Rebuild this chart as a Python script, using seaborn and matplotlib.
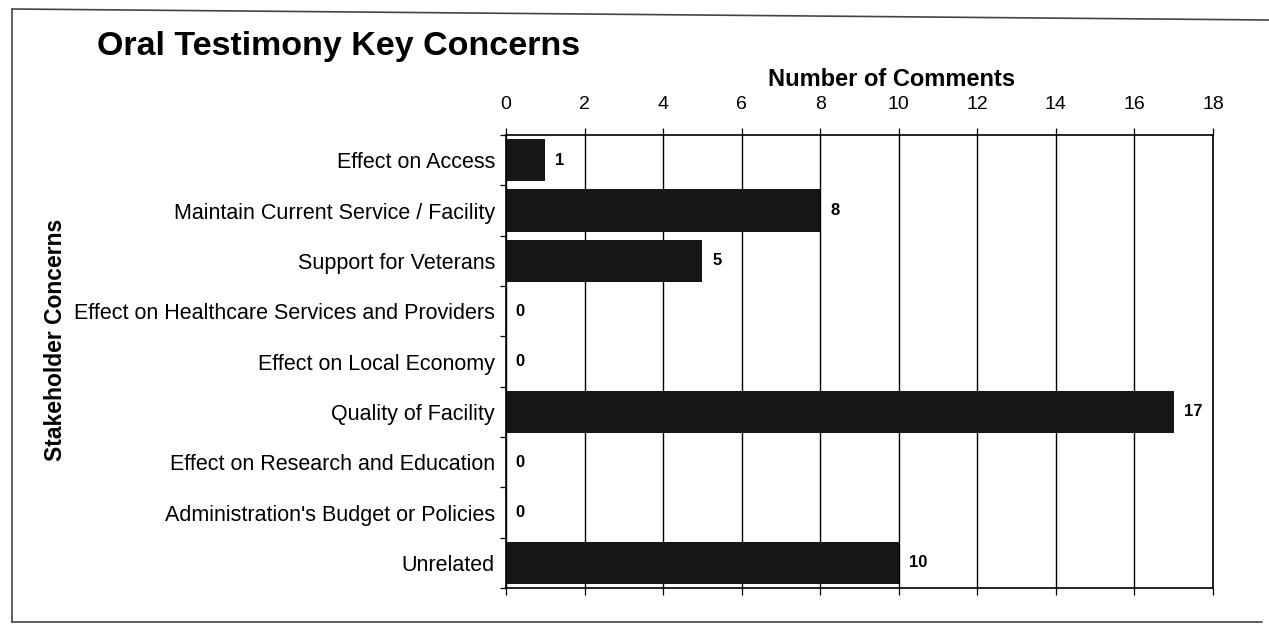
import numpy as np
import pandas as pd
import matplotlib
matplotlib.use('Agg')
import matplotlib.pyplot as plt
import seaborn as sns
from matplotlib.lines import Line2D

categories = ['Effect on Access', 'Maintain Current Service / Facility', 'Support for Veterans',
              'Effect on Healthcare Services and Providers', 'Effect on Local Economy',
              'Quality of Facility', 'Effect on Research and Education',
              "Administration's Budget or Policies", 'Unrelated']
counts = [1, 8, 5, 0, 0, 17, 0, 0, 10]
xticks = list(range(0, 19, 2))

df = pd.DataFrame({'concern': categories, 'comments': counts})

sns.set_theme(style='white')
plt.rcParams['font.family'] = ['Liberation Sans', 'DejaVu Sans']
plt.rcParams['text.color'] = 'black'
plt.rcParams['xtick.color'] = 'black'
plt.rcParams['ytick.color'] = 'black'
plt.rcParams['axes.labelcolor'] = 'black'

W, H = 1269, 631
fig = plt.figure(figsize=(12.69, 6.31), dpi=100)
ax = fig.add_axes([506/W, 1 - 588/H, (1213-506)/W, (588-135)/H])

sns.barplot(data=df, x='comments', y='concern', color='#161616', width=0.84,
            saturation=1, ax=ax, orient='h', edgecolor='#161616', linewidth=0)

ax.set_xlim(0, 18)
ax.set_xticks(xticks)
ax.xaxis.tick_top()
ax.xaxis.set_label_position('top')
ax.tick_params(axis='x', which='both', top=True, bottom=True, labelbottom=False,
               labeltop=True, length=5, width=0.9, labelsize=14, pad=11)
ax.grid(axis='x', color='black', linewidth=1.0)
ax.set_axisbelow(True)
ax.set_ylim(len(categories) - 0.5, -0.5)
ax.set_yticks(np.arange(len(categories)))
ax.set_yticklabels(categories)
ax.set_yticks(np.arange(len(categories) + 1) - 0.5, minor=True)
ax.tick_params(axis='y', which='major', length=0, labelsize=15.5, pad=8)
ax.tick_params(axis='y', which='minor', length=4, left=True, width=0.9)
for s in ax.spines.values():
    s.set_color('black')
    s.set_linewidth(1.2)

ax.set_xlabel('Number of Comments', fontsize=17, fontweight='bold')
ax.xaxis.set_label_coords(0.546, 1 + 49/453)
ax.set_ylabel('')
fig.text(56/W, 1 - 340/H, 'Stakeholder Concerns', rotation=90, fontsize=16.5,
         fontweight='bold', ha='center', va='center')

for i, v in enumerate(counts):
    ax.text(v + 0.25, i, str(v), ha='left', va='center', fontsize=12, fontweight='bold')

fig.text(97/W, 1 - 46/H, 'Oral Testimony Key Concerns', fontsize=24.5, fontweight='bold',
         ha='left', va='center')

# scanned page frame: left, top and bottom edges
frame = dict(transform=fig.transFigure, color='#444444', linewidth=1.2)
fig.lines.append(Line2D([12/W, 12/W], [1 - 9/H, 1 - 622/H], **frame))
fig.lines.append(Line2D([12/W, 1269/W], [1 - 9/H, 1 - 20/H], **frame))
fig.lines.append(Line2D([12/W, 1262/W], [1 - 622/H, 1 - 622/H], **frame))

fig.savefig('out.png', dpi=100)
